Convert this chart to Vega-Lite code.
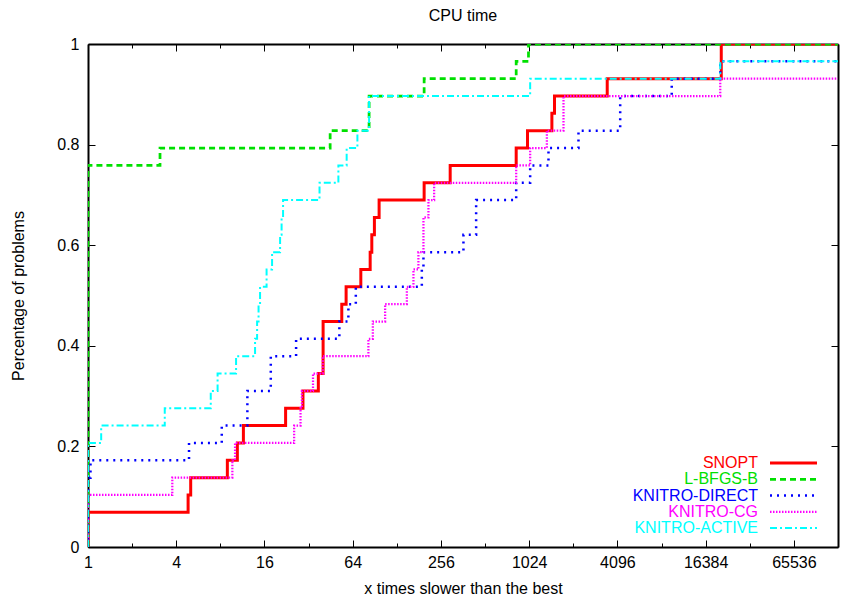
{
  "$schema": "https://vega.github.io/schema/vega-lite/v6.json",
  "width": 750,
  "height": 503,
  "autosize": {"type": "none"},
  "padding": {"left": 88, "top": 44, "right": 6, "bottom": 58},
  "background": "white",
  "config": {
    "font": "Liberation Sans",
    "view": {"stroke": null},
    "axis": {"labelFont": "Liberation Sans", "titleFont": "Liberation Sans", "labelFontSize": 16, "titleFontSize": 16, "titleFontWeight": "normal", "labelColor": "black", "titleColor": "black", "tickColor": "black", "domain": true, "domainColor": "black", "domainWidth": 2, "grid": false, "zindex": 1}
  },
  "title": {"text": "CPU time", "fontSize": 16, "fontWeight": "normal", "font": "Liberation Sans", "anchor": "middle", "offset": 12, "color": "black"},
  "data": {"values": [
    {"s": "SNOPT", "i": 0, "x": 1, "y": 0},
    {"s": "SNOPT", "i": 1, "x": 1, "y": 0.069},
    {"s": "SNOPT", "i": 2, "x": 4.82, "y": 0.1034},
    {"s": "SNOPT", "i": 3, "x": 5.02, "y": 0.1379},
    {"s": "SNOPT", "i": 4, "x": 8.93, "y": 0.1724},
    {"s": "SNOPT", "i": 5, "x": 10.45, "y": 0.2069},
    {"s": "SNOPT", "i": 6, "x": 11.49, "y": 0.2414},
    {"s": "SNOPT", "i": 7, "x": 22.3, "y": 0.2759},
    {"s": "SNOPT", "i": 8, "x": 29.3, "y": 0.3103},
    {"s": "SNOPT", "i": 9, "x": 37.3, "y": 0.3448},
    {"s": "SNOPT", "i": 10, "x": 40.2, "y": 0.4483},
    {"s": "SNOPT", "i": 11, "x": 53.9, "y": 0.4828},
    {"s": "SNOPT", "i": 12, "x": 57.7, "y": 0.5172},
    {"s": "SNOPT", "i": 13, "x": 72.7, "y": 0.5517},
    {"s": "SNOPT", "i": 14, "x": 84.2, "y": 0.5862},
    {"s": "SNOPT", "i": 15, "x": 86.4, "y": 0.6207},
    {"s": "SNOPT", "i": 16, "x": 90.0, "y": 0.6552},
    {"s": "SNOPT", "i": 17, "x": 96.9, "y": 0.6897},
    {"s": "SNOPT", "i": 18, "x": 196.6, "y": 0.7241},
    {"s": "SNOPT", "i": 19, "x": 296, "y": 0.7586},
    {"s": "SNOPT", "i": 20, "x": 835, "y": 0.7931},
    {"s": "SNOPT", "i": 21, "x": 997, "y": 0.8276},
    {"s": "SNOPT", "i": 22, "x": 1463, "y": 0.8621},
    {"s": "SNOPT", "i": 23, "x": 1524, "y": 0.8966},
    {"s": "SNOPT", "i": 24, "x": 3490, "y": 0.931},
    {"s": "SNOPT", "i": 25, "x": 20940, "y": 1},
    {"s": "SNOPT", "i": 26, "x": 131072, "y": 1},

    {"s": "L-BFGS-B", "i": 0, "x": 1, "y": 0},
    {"s": "L-BFGS-B", "i": 1, "x": 1, "y": 0.7586},
    {"s": "L-BFGS-B", "i": 2, "x": 3.10, "y": 0.7931},
    {"s": "L-BFGS-B", "i": 3, "x": 44.9, "y": 0.8276},
    {"s": "L-BFGS-B", "i": 4, "x": 82.8, "y": 0.8966},
    {"s": "L-BFGS-B", "i": 5, "x": 196.6, "y": 0.931},
    {"s": "L-BFGS-B", "i": 6, "x": 835, "y": 0.9655},
    {"s": "L-BFGS-B", "i": 7, "x": 1013, "y": 1},
    {"s": "L-BFGS-B", "i": 8, "x": 131072, "y": 1},

    {"s": "KNITRO-DIRECT", "i": 0, "x": 1, "y": 0},
    {"s": "KNITRO-DIRECT", "i": 1, "x": 1, "y": 0.1379},
    {"s": "KNITRO-DIRECT", "i": 2, "x": 1.04, "y": 0.1724},
    {"s": "KNITRO-DIRECT", "i": 3, "x": 4.89, "y": 0.2069},
    {"s": "KNITRO-DIRECT", "i": 4, "x": 8.18, "y": 0.2414},
    {"s": "KNITRO-DIRECT", "i": 5, "x": 12.23, "y": 0.3103},
    {"s": "KNITRO-DIRECT", "i": 6, "x": 17.67, "y": 0.3793},
    {"s": "KNITRO-DIRECT", "i": 7, "x": 26.3, "y": 0.4138},
    {"s": "KNITRO-DIRECT", "i": 8, "x": 51.9, "y": 0.4483},
    {"s": "KNITRO-DIRECT", "i": 9, "x": 59.8, "y": 0.4828},
    {"s": "KNITRO-DIRECT", "i": 10, "x": 67.2, "y": 0.5172},
    {"s": "KNITRO-DIRECT", "i": 11, "x": 189.6, "y": 0.5517},
    {"s": "KNITRO-DIRECT", "i": 12, "x": 194.5, "y": 0.5862},
    {"s": "KNITRO-DIRECT", "i": 13, "x": 364.6, "y": 0.6207},
    {"s": "KNITRO-DIRECT", "i": 14, "x": 445, "y": 0.6897},
    {"s": "KNITRO-DIRECT", "i": 15, "x": 835, "y": 0.7241},
    {"s": "KNITRO-DIRECT", "i": 16, "x": 1040, "y": 0.7586},
    {"s": "KNITRO-DIRECT", "i": 17, "x": 1387, "y": 0.7931},
    {"s": "KNITRO-DIRECT", "i": 18, "x": 2222, "y": 0.8276},
    {"s": "KNITRO-DIRECT", "i": 19, "x": 4279, "y": 0.8966},
    {"s": "KNITRO-DIRECT", "i": 20, "x": 9617, "y": 0.931},
    {"s": "KNITRO-DIRECT", "i": 21, "x": 20610, "y": 0.9655},
    {"s": "KNITRO-DIRECT", "i": 22, "x": 131072, "y": 0.9655},

    {"s": "KNITRO-CG", "i": 0, "x": 1, "y": 0},
    {"s": "KNITRO-CG", "i": 1, "x": 1, "y": 0.1034},
    {"s": "KNITRO-CG", "i": 2, "x": 3.76, "y": 0.1379},
    {"s": "KNITRO-CG", "i": 3, "x": 9.66, "y": 0.1724},
    {"s": "KNITRO-CG", "i": 4, "x": 10.08, "y": 0.2069},
    {"s": "KNITRO-CG", "i": 5, "x": 25.5, "y": 0.2414},
    {"s": "KNITRO-CG", "i": 6, "x": 28.2, "y": 0.2759},
    {"s": "KNITRO-CG", "i": 7, "x": 28.8, "y": 0.3103},
    {"s": "KNITRO-CG", "i": 8, "x": 34.3, "y": 0.3448},
    {"s": "KNITRO-CG", "i": 9, "x": 40.0, "y": 0.3793},
    {"s": "KNITRO-CG", "i": 10, "x": 81.9, "y": 0.4138},
    {"s": "KNITRO-CG", "i": 11, "x": 87.8, "y": 0.4483},
    {"s": "KNITRO-CG", "i": 12, "x": 106.5, "y": 0.4828},
    {"s": "KNITRO-CG", "i": 13, "x": 149.8, "y": 0.5172},
    {"s": "KNITRO-CG", "i": 14, "x": 166.2, "y": 0.5517},
    {"s": "KNITRO-CG", "i": 15, "x": 179.7, "y": 0.5862},
    {"s": "KNITRO-CG", "i": 16, "x": 194.5, "y": 0.6552},
    {"s": "KNITRO-CG", "i": 17, "x": 210.4, "y": 0.6897},
    {"s": "KNITRO-CG", "i": 18, "x": 230, "y": 0.7241},
    {"s": "KNITRO-CG", "i": 19, "x": 835, "y": 0.7586},
    {"s": "KNITRO-CG", "i": 20, "x": 1040, "y": 0.7931},
    {"s": "KNITRO-CG", "i": 21, "x": 1352, "y": 0.8276},
    {"s": "KNITRO-CG", "i": 22, "x": 1756, "y": 0.8966},
    {"s": "KNITRO-CG", "i": 23, "x": 20610, "y": 0.931},
    {"s": "KNITRO-CG", "i": 24, "x": 131072, "y": 0.931},

    {"s": "KNITRO-ACTIVE", "i": 0, "x": 1, "y": 0},
    {"s": "KNITRO-ACTIVE", "i": 1, "x": 1, "y": 0.2069},
    {"s": "KNITRO-ACTIVE", "i": 2, "x": 1.23, "y": 0.2414},
    {"s": "KNITRO-ACTIVE", "i": 3, "x": 3.34, "y": 0.2759},
    {"s": "KNITRO-ACTIVE", "i": 4, "x": 6.88, "y": 0.3103},
    {"s": "KNITRO-ACTIVE", "i": 5, "x": 7.66, "y": 0.3448},
    {"s": "KNITRO-ACTIVE", "i": 6, "x": 10.24, "y": 0.3793},
    {"s": "KNITRO-ACTIVE", "i": 7, "x": 13.8, "y": 0.4138},
    {"s": "KNITRO-ACTIVE", "i": 8, "x": 14.25, "y": 0.4483},
    {"s": "KNITRO-ACTIVE", "i": 9, "x": 14.58, "y": 0.4828},
    {"s": "KNITRO-ACTIVE", "i": 10, "x": 14.93, "y": 0.5172},
    {"s": "KNITRO-ACTIVE", "i": 11, "x": 16.54, "y": 0.5517},
    {"s": "KNITRO-ACTIVE", "i": 12, "x": 18.03, "y": 0.5862},
    {"s": "KNITRO-ACTIVE", "i": 13, "x": 20.45, "y": 0.6207},
    {"s": "KNITRO-ACTIVE", "i": 14, "x": 20.94, "y": 0.6552},
    {"s": "KNITRO-ACTIVE", "i": 15, "x": 21.43, "y": 0.6897},
    {"s": "KNITRO-ACTIVE", "i": 16, "x": 38.0, "y": 0.7241},
    {"s": "KNITRO-ACTIVE", "i": 17, "x": 51.1, "y": 0.7586},
    {"s": "KNITRO-ACTIVE", "i": 18, "x": 58.2, "y": 0.7931},
    {"s": "KNITRO-ACTIVE", "i": 19, "x": 68.9, "y": 0.8276},
    {"s": "KNITRO-ACTIVE", "i": 20, "x": 82.8, "y": 0.8966},
    {"s": "KNITRO-ACTIVE", "i": 21, "x": 1040, "y": 0.931},
    {"s": "KNITRO-ACTIVE", "i": 22, "x": 20610, "y": 0.9655},
    {"s": "KNITRO-ACTIVE", "i": 23, "x": 131072, "y": 0.9655}
  ]},
  "layer": [
    {
      "mark": {"type": "line", "interpolate": "step-after", "clip": true},
      "encoding": {
        "x": {
          "field": "x", "type": "quantitative",
          "scale": {"type": "log", "base": 2, "domain": [1, 131072], "nice": false},
          "axis": {
            "orient": "bottom",
            "title": "x times slower than the best",
            "values": [1, 2, 4, 8, 16, 32, 64, 128, 256, 512, 1024, 2048, 4096, 8192, 16384, 32768, 65536],
            "format": "d",
            "labelExpr": "round(log(datum.value)/log(2)) % 2 == 0 ? datum.label : ''",
            "tickSize": {"condition": {"test": "round(log(datum.value)/log(2)) % 2 == 0", "value": -7}, "value": -4},
            "labelPadding": 14,
            "titlePadding": 7,
            "labelFlush": false,
            "labelOverlap": false
          }
        },
        "y": {
          "field": "y", "type": "quantitative",
          "scale": {"domain": [0, 1], "nice": false},
          "axis": {
            "orient": "left",
            "title": "Percentage of problems",
            "values": [0, 0.2, 0.4, 0.6, 0.8, 1],
            "format": "~g",
            "tickSize": -7,
            "labelPadding": 16,
            "titlePadding": 30,
            "labelFlush": false,
            "labelOverlap": false
          }
        },
        "color": {
          "field": "s", "type": "nominal",
          "scale": {"domain": ["SNOPT", "L-BFGS-B", "KNITRO-DIRECT", "KNITRO-CG", "KNITRO-ACTIVE"], "range": ["#ff0000", "#00e000", "#0000ff", "#ff00ff", "#00ffff"]},
          "legend": {
            "title": null, "orient": "none", "legendX": 670, "legendY": 411,
            "symbolType": "M-11.75,0H11.75", "symbolSize": 16, "labelFontSize": 16, "labelFont": "Liberation Sans",
            "rowPadding": 0.25, "padding": 0, "labelLimit": 300,
            "encode": {
              "labels": {"update": {"fill": {"scale": "color", "field": "value"}, "align": {"value": "right"}, "x": {"value": 0}}},
              "symbols": {"update": {"x": {"value": 35.5}}}
            }
          }
        },
        "strokeDash": {
          "field": "s", "type": "nominal",
          "scale": {"domain": ["SNOPT", "L-BFGS-B", "KNITRO-DIRECT", "KNITRO-CG", "KNITRO-ACTIVE"], "range": [[1, 0], [6, 4], [2, 5], [1.5, 1.5], [7, 3, 2, 3]]}
        },
        "strokeWidth": {
          "field": "s", "type": "nominal",
          "scale": {"domain": ["SNOPT", "L-BFGS-B", "KNITRO-DIRECT", "KNITRO-CG", "KNITRO-ACTIVE"], "range": [3, 2, 2, 2, 2]}
        },
        "order": {"field": "i", "type": "quantitative"}
      }
    },
    {
      "mark": {"type": "point", "opacity": 0},
      "encoding": {
        "x": {
          "field": "x", "type": "quantitative",
          "axis": {
            "orient": "top", "title": null, "labels": false,
            "values": [1, 2, 4, 8, 16, 32, 64, 128, 256, 512, 1024, 2048, 4096, 8192, 16384, 32768, 65536],
            "tickSize": {"condition": {"test": "round(log(datum.value)/log(2)) % 2 == 0", "value": -7}, "value": -4}
          }
        },
        "y": {
          "field": "y", "type": "quantitative",
          "axis": {"orient": "right", "title": null, "labels": false, "values": [0, 0.2, 0.4, 0.6, 0.8, 1], "tickSize": -7}
        }
      }
    }
  ],
  "resolve": {"axis": {"x": "independent", "y": "independent"}}
}
